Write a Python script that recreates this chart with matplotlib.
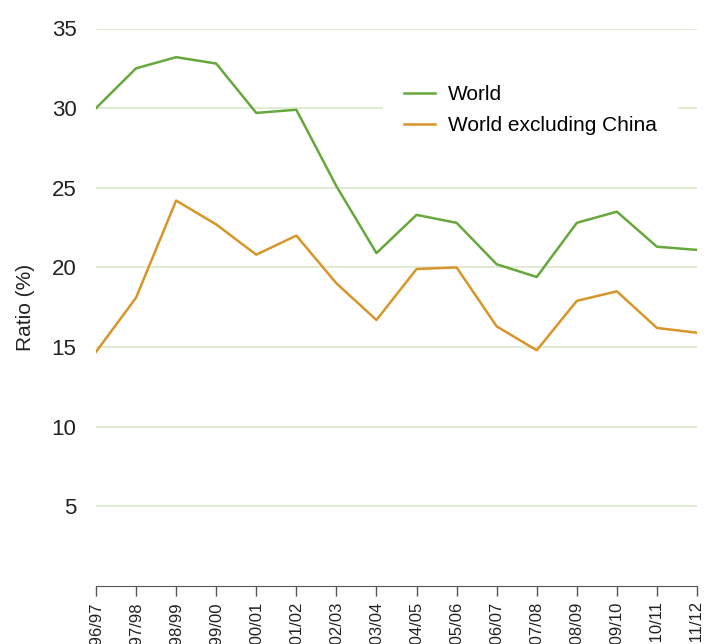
import matplotlib
matplotlib.use("Agg")
import matplotlib.pyplot as plt

plt.rcParams['font.family'] = ['Liberation Sans', 'DejaVu Sans']

years = ["1996/97", "1997/98", "1998/99", "1999/00", "2000/01", "2001/02", "2002/03",
         "2003/04", "2004/05", "2005/06", "2006/07", "2007/08", "2008/09", "2009/10",
         "2010/11", "2011/12"]
world = [30.0, 32.5, 33.2, 32.8, 29.7, 29.9, 25.1, 20.9, 23.3, 22.8, 20.2, 19.4,
         22.8, 23.5, 21.3, 21.1]
world_ex_china = [14.7, 18.1, 24.2, 22.7, 20.8, 22.0, 19.0, 16.7, 19.9, 20.0, 16.3,
                  14.8, 17.9, 18.5, 16.2, 15.9]
yticks = [5, 10, 15, 20, 25, 30, 35]

fig = plt.figure(figsize=(7.15, 6.44), dpi=100)
ax = fig.add_axes([96/715, 1-586/644, (697-96)/715, (586-28.5)/644])

x = list(range(len(years)))
ax.set_yticks(yticks)
ax.grid(axis='y', color='#dce9cc', linewidth=1.2, zorder=0)
ax.plot(x, world, color='#67a83c', linewidth=1.8, label='World', zorder=3)
ax.plot(x, world_ex_china, color='#d8952a', linewidth=1.8, label='World excluding China', zorder=3)

ax.set_xlim(0, len(years)-1)
ax.set_ylim(0, 35)
ax.set_xticks(x)
ax.set_xticklabels(years, rotation=90, fontsize=12, color='#222222')
ax.tick_params(axis='x', length=7, color='#555555', width=1, pad=4)
ax.tick_params(axis='y', length=0, labelsize=16, pad=14, labelcolor='#222222')
for s in ['top', 'right', 'left']:
    ax.spines[s].set_visible(False)
ax.spines['bottom'].set_color('#555555')
ax.set_axisbelow(True)

ax.set_ylabel('Ratio (%)', fontsize=15, color='#222222', labelpad=12)

leg = ax.legend(loc='upper left', bbox_to_anchor=(383/715, 1-64/644), bbox_transform=fig.transFigure,
                frameon=True, fontsize=15, handlelength=1.5, handletextpad=0.6,
                borderpad=1.0, labelspacing=0.6, borderaxespad=0, fancybox=False)
leg.get_frame().set_edgecolor('white')
leg.get_frame().set_facecolor('white')
leg.get_frame().set_alpha(1)

fig.savefig('out.png', dpi=100)
